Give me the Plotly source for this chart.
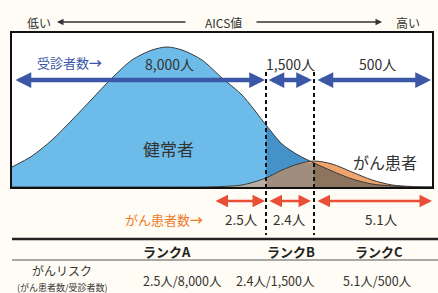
import plotly.graph_objects as go

W, H = 438, 293
FONT = "Noto Sans CJK JP"

# ---- data ----
aics = [0, 20, 40, 60, 80, 100, 120, 140, 155, 170, 190, 210, 230, 254, 270, 286, 302, 320, 340, 360, 380, 400, 420]
healthy = [20, 31, 47, 67, 88, 109, 127, 137, 140, 137, 127, 109, 92, 62, 43, 32, 24, 16, 8, 3, 1, 0, 0]
cancer = [0, 0, 0, 0, 0, 0, 0, 0, 0, 0, 0, 0.5, 2, 9, 17, 23, 26, 23, 15, 7, 2, 0.5, 0]
rank_edges = [254, 302]
ranks = ["ランクA", "ランクB", "ランクC"]
visitors = ["8,000人", "1,500人", "500人"]
patients = ["2.5人", "2.4人", "5.1人"]
risk = ["2.5人/8,000人", "2.4人/1,500人", "5.1人/500人"]

overlap = [min(h, c) for h, c in zip(healthy, cancer)]
i1 = aics.index(rank_edges[0])
i2 = aics.index(rank_edges[1])


def px(x):
    return x / W


def py(y):
    return 1 - y / H


BOX_L, BOX_R, BOX_T, BOX_B = 12, 432, 33, 187

fig = go.Figure()


def area(xs, ys, color):
    fig.add_trace(go.Scatter(x=xs, y=ys, mode="lines", fill="tozeroy", fillcolor=color,
                             line=dict(width=0, shape="spline", smoothing=0.8, color=color),
                             hoverinfo="skip", showlegend=False))


# healthy
area(aics, healthy, "#6dbbe8")
area(aics[i1:i2 + 1], healthy[i1:i2 + 1], "#4592c8")
# cancer
area(aics, cancer, "#eea46c")
# overlap
area(aics[:i1 + 1], overlap[:i1 + 1], "#b6aea6")
area(aics[i1:i2 + 1], overlap[i1:i2 + 1], "#a08d7d")
area(aics[i2:], overlap[i2:], "#8d745f")
# outlines
for ys in (healthy, cancer):
    fig.add_trace(go.Scatter(x=aics, y=ys, mode="lines",
                             line=dict(width=1, color="#3a3a3a", shape="spline", smoothing=0.8),
                             hoverinfo="skip", showlegend=False))

shapes = []
# dashed rank boundaries
for e in rank_edges:
    shapes.append(dict(type="line", xref="x", yref="paper", x0=e, x1=e, y0=py(72), y1=py(235),
                       line=dict(color="#111", width=2, dash="4px,3px")))
# table lines
shapes.append(dict(type="line", xref="paper", yref="paper", x0=px(12), x1=px(438), y0=py(239), y1=py(239),
                   line=dict(color="#222", width=2.5)))
shapes.append(dict(type="line", xref="paper", yref="paper", x0=px(12), x1=px(438), y0=py(260), y1=py(260),
                   line=dict(color="#555", width=1.2)))

ann = []


def text(x, y, s, size=12, color="#333", xref="paper", yref="paper", bold=False):
    ann.append(dict(x=x, y=y, xref=xref, yref=yref, text=("<b>%s</b>" % s) if bold else s,
                    showarrow=False, xanchor="center", yanchor="middle",
                    font=dict(family=FONT, size=size, color=color)))


# top header
text(px(39), py(22), "低い", 12)
text(px(223), py(22), "AICS値", 12)
text(px(408), py(22), "高い", 12)
ann.append(dict(x=px(57), y=py(22), xref="paper", yref="paper", ax=130, ay=0, axref="pixel", ayref="pixel",
                text="", showarrow=True, arrowhead=2, arrowsize=1, arrowwidth=1.3, arrowcolor="#333"))
ann.append(dict(x=px(382), y=py(22), xref="paper", yref="paper", ax=-127, ay=0, axref="pixel", ayref="pixel",
                text="", showarrow=True, arrowhead=2, arrowsize=1, arrowwidth=1.3, arrowcolor="#333"))

# blue visitor arrows
BLUE = "#3b57a6"
blue_y = BOX_B - 80
blue_spans = [(2, 253), (255, 300), (304, 419)]
for a, b in blue_spans:
    ann.append(dict(x=b, y=blue_y, ax=a, ay=blue_y, xref="x", yref="y", axref="x", ayref="y", text="",
                    showarrow=True, arrowside="end+start", arrowhead=2, startarrowhead=2,
                    arrowsize=0.7, startarrowsize=0.7, arrowwidth=4.5, arrowcolor=BLUE, standoff=0, startstandoff=0))
text(px(69), py(63), "受診者数<b>→</b>", 13, BLUE)
for xc, s in zip([157, 278, 365], visitors):
    text(xc, BOX_B - 64, s, 14, "#333", xref="x", yref="y")

text(156, BOX_B - 148, "健常者", 17, "#333", xref="x", yref="y")
text(373, BOX_B - 162, "がん患者", 16, "#333", xref="x", yref="y")

# orange patient arrows
ORANGE = "#e94e36"
orange_spans = [(202, 253), (256, 299), (304, 420)]
for a, b in orange_spans:
    ann.append(dict(x=b, y=py(201), ax=a, ay=0, xref="x", yref="paper", axref="x", ayref="pixel", text="",
                    showarrow=True, arrowside="end+start", arrowhead=2, startarrowhead=2,
                    arrowsize=1, startarrowsize=1, arrowwidth=2.5, arrowcolor=ORANGE, standoff=0, startstandoff=0))
text(px(164), py(219), "がん患者数<b>→</b>", 13, "#f07a2a")
for xc, s in zip([229, 277, 369], patients):
    text(xc, py(219), s, 13.5, "#333", xref="x")

# table
for xc, s in zip([167, 291, 379], ranks):
    text(px(xc), py(251), s, 13, "#222", bold=True)
text(px(62), py(270.5), "がんリスク", 12, "#333")
text(px(62), py(287.5), "(がん患者数/受診者数)", 9, "#333")
for xc, s in zip([182, 275, 377], risk):
    text(px(xc), py(280), s, 12.5, "#333")

fig.update_layout(
    width=W, height=H, margin=dict(l=0, r=0, t=0, b=0),
    paper_bgcolor="#fefcf4", plot_bgcolor="#ffffff",
    xaxis=dict(domain=[px(BOX_L), px(BOX_R)], range=[0, 420], showgrid=False, zeroline=False,
               showticklabels=False, ticks="", showline=True, mirror=True, linecolor="#111", linewidth=2),
    yaxis=dict(domain=[py(BOX_B), py(BOX_T)], range=[0, BOX_B - BOX_T], showgrid=False, zeroline=False,
               showticklabels=False, ticks="", showline=True, mirror=True, linecolor="#111", linewidth=2),
    shapes=shapes, annotations=ann,
)

fig.write_html("out.html", config={"displayModeBar": False},
               post_script="document.body.style.margin='0px';document.body.style.padding='0px';")
